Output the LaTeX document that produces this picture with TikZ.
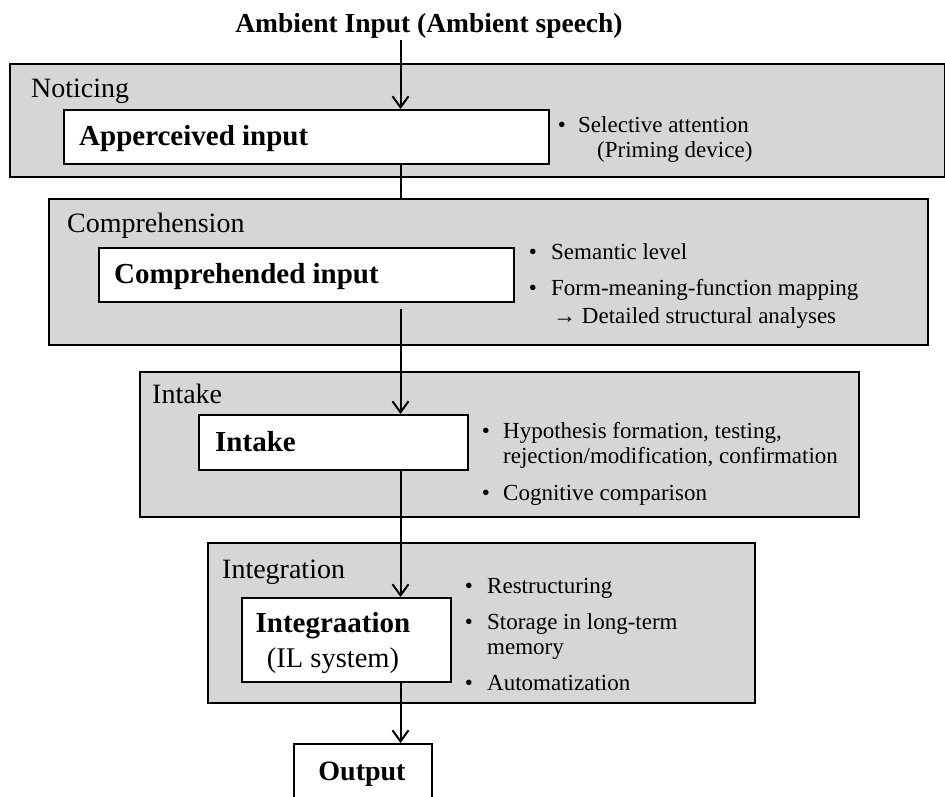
\documentclass[tikz,border=0pt]{standalone}
\usepackage{fontspec}
\setmainfont{Liberation Serif}
\usetikzlibrary{arrows.meta}
\definecolor{boxgray}{RGB}{214,214,214}
\begin{document}
\begin{tikzpicture}[x=1pt,y=-1pt,
  graybox/.style={draw=black, fill=boxgray, line width=2pt, anchor=north west, inner sep=0pt, rectangle},
  whitebox/.style={draw=black, fill=white, line width=2pt, anchor=north west, inner sep=0pt, rectangle},
  grouplabel/.style={anchor=base west, inner sep=0pt, font=\fontsize{28}{32}\selectfont},
  boxlabel/.style={anchor=base west, inner sep=0pt, font=\fontsize{29}{33}\selectfont\bfseries},
  bul/.style={anchor=base, inner sep=0pt, font=\fontsize{23}{27}\selectfont},
  btext/.style={anchor=base west, inner sep=0pt, font=\fontsize{23}{27}\selectfont},
  link/.style={line width=2pt},
  arr/.style={line width=2pt, -{Straight Barb[length=11pt,width=16pt]}}
]
\useasboundingbox (0,0) rectangle (945,796);
\clip (0,0) rectangle (945,796);
\fill[white] (0,0) rectangle (945,796);

% title
\node[anchor=base, inner sep=0pt, font=\fontsize{27.5}{31}\selectfont\bfseries] (title) at (429,32) {Ambient Input (Ambient speech)};
\coordinate (spine) at (400.5,0);

% gray stage boxes
\node[graybox, minimum width=935pt, minimum height=113pt] (gnotice) at (9,63) {};
\node[graybox, minimum width=879pt, minimum height=146pt] (gcomp) at (48,198) {};
\node[graybox, minimum width=719pt, minimum height=145pt] (gintake) at (139,371) {};
\node[graybox, minimum width=547pt, minimum height=160pt] (ginteg) at (207,542) {};

% stage labels
\node[grouplabel] (lnotice) at (31,97) {Noticing};
\node[grouplabel] (lcomp) at (67,232) {Comprehension};
\node[grouplabel] (lintake) at (152,403) {Intake};
\node[grouplabel] (linteg) at (222,578) {Integration};

% white boxes
\node[whitebox, minimum width=485pt, minimum height=54pt] (app) at (63,109) {};
\node[boxlabel] (tapp) at (79,145) {Apperceived input};
\node[whitebox, minimum width=415pt, minimum height=54pt] (cin) at (98,247) {};
\node[boxlabel] (tcin) at (114,283) {Comprehended input};
\node[whitebox, minimum width=269pt, minimum height=55pt] (itk) at (198,414) {};
\node[boxlabel] (titk) at (215,451) {Intake};
\node[whitebox, minimum width=209pt, minimum height=84pt] (intg) at (241,597) {};
\node[anchor=base, inner sep=0pt, font=\fontsize{29}{33}\selectfont\bfseries] (tintg) at (333,632) {Integraation};
\node[anchor=base, inner sep=0pt, font=\fontsize{28.5}{32}\selectfont] (tintg2) at (333,667) {(IL system)};
\node[whitebox, minimum width=138pt, minimum height=80pt] (out) at (293,743) {};
\node[anchor=base, inner sep=0pt, font=\fontsize{28}{32}\selectfont\bfseries] (tout) at (362,780) {Output};

% bullets: noticing
\node[bul] (bn1) at (562,132) {•};
\node[btext] (n1) at (578,132) {Selective attention};
\node[btext] (n2) at (597,157) {(Priming device)};
% bullets: comprehension
\node[bul] (bc1) at (533,259) {•};
\node[btext] (c1) at (551,259) {Semantic level};
\node[bul] (bc2) at (533,295) {•};
\node[btext] (c2) at (551,295) {Form-meaning-function mapping};
\node[btext] (c3) at (553,323) {→ Detailed structural analyses};
% bullets: intake
\node[bul] (bi1) at (486,438) {•};
\node[btext] (i1) at (503,438) {Hypothesis formation, testing,};
\node[btext] (i2) at (503,463) {rejection/modification, confirmation};
\node[bul] (bi2) at (486,500) {•};
\node[btext] (i3) at (503,500) {Cognitive comparison};
% bullets: integration
\node[bul] (bg1) at (469,593) {•};
\node[btext] (g1) at (487,593) {Restructuring};
\node[bul] (bg2) at (469,629) {•};
\node[btext] (g2) at (487,629) {Storage in long-term};
\node[btext] (g3) at (487,654) {memory};
\node[bul] (bg3) at (469,690) {•};
\node[btext] (g4) at (487,690) {Automatization};

% connectors
\draw[arr, shorten <=2pt] (title.south -| spine) -- (app.north -| spine);
\draw[link] (app.south -| spine) -- (gcomp.north -| spine);
\draw[arr, shorten <=6pt] (cin.south -| spine) -- (itk.north -| spine);
\draw[arr] (itk.south -| spine) -- (intg.north -| spine);
\draw[arr] (intg.south -| spine) -- (out.north -| spine);
\end{tikzpicture}
\end{document}
